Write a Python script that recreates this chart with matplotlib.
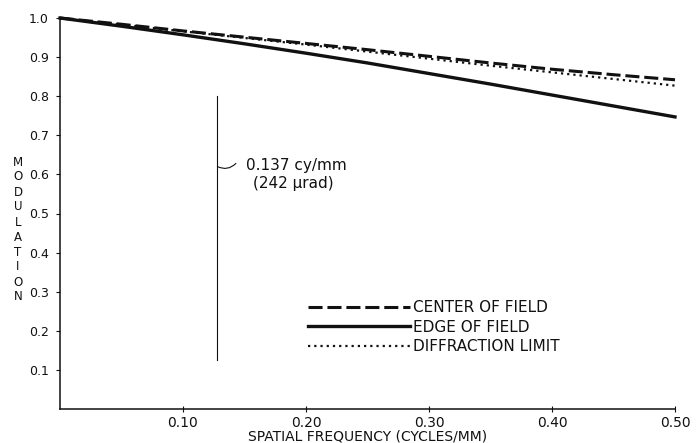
import matplotlib
matplotlib.use("Agg")
import matplotlib.pyplot as plt
import numpy as np

# ---- data ----
freq = [0.00, 0.05, 0.10, 0.15, 0.20, 0.25, 0.30, 0.35, 0.40, 0.45, 0.50]
center_of_field = [1.000, 0.984, 0.967, 0.951, 0.935, 0.919, 0.902, 0.885, 0.869, 0.855, 0.842]
edge_of_field = [1.000, 0.979, 0.957, 0.934, 0.910, 0.885, 0.858, 0.831, 0.803, 0.775, 0.747]
diffraction_limit = [1.000, 0.983, 0.966, 0.949, 0.932, 0.914, 0.896, 0.878, 0.861, 0.844, 0.827]
series_labels = ["CENTER OF FIELD", "EDGE OF FIELD", "DIFFRACTION LIMIT"]
x_ticks = [0.10, 0.20, 0.30, 0.40, 0.50]
x_ticklabels = ["0.10", "0.20", "0.30", "0.40", "0.50"]
y_ticks = [0.1, 0.2, 0.3, 0.4, 0.5, 0.6, 0.7, 0.8, 0.9, 1.0]
y_ticklabels = ["0.1", "0.2", "0.3", "0.4", "0.5", "0.6", "0.7", "0.8", "0.9", "1.0"]
marker_freq = 0.128
marker_span = [0.125, 0.80]
marker_text = ["0.137 cy/mm", "(242 \u03bcrad)"]

plt.rcParams['font.family'] = ['DejaVu Sans']
ink = "#111111"

fig = plt.figure(figsize=(7, 4.43), dpi=100)
fig.patch.set_facecolor("white")
ax = fig.add_axes([60/700, 34/443, 615/700, 391/443])
ax.set_xlim(0, 0.5)
ax.set_ylim(0, 1.0)

l_center, = ax.plot(freq, center_of_field, color=ink, lw=2.2, dashes=(4.6, 1.6),
                    clip_on=False, label=series_labels[0], zorder=3)
l_edge, = ax.plot(freq, edge_of_field, color=ink, lw=2.4, clip_on=False,
                  label=series_labels[1], zorder=3)
l_diff, = ax.plot(freq, diffraction_limit, color=ink, lw=1.6, dashes=(1.0, 1.8),
                  clip_on=False, label=series_labels[2], zorder=3)

# marker line and annotation
ax.plot([marker_freq, marker_freq], marker_span, color=ink, lw=0.8)
ax.annotate("", xy=(marker_freq, 0.620), xytext=(0.143, 0.628),
            arrowprops=dict(arrowstyle="-", lw=0.8, color=ink,
                            connectionstyle="arc3,rad=-0.35", shrinkA=0, shrinkB=0))
ax.text(0.1925, 0.624, marker_text[0], ha="center", va="center", fontsize=11, color=ink)
ax.text(0.1895, 0.578, marker_text[1], ha="center", va="center", fontsize=11, color=ink)

# axes styling
for s in ["top", "right"]:
    ax.spines[s].set_visible(False)
for s in ["left", "bottom"]:
    ax.spines[s].set_linewidth(1.1)
    ax.spines[s].set_color(ink)
ax.set_xticks(x_ticks)
ax.set_xticklabels(x_ticklabels, fontsize=10, color=ink)
ax.set_yticks(y_ticks)
ax.set_yticklabels(y_ticklabels, fontsize=9, color=ink)
ax.tick_params(axis="x", direction="inout", length=4, width=0.8, pad=3, colors=ink)
ax.tick_params(axis="y", direction="out", length=3, width=0.8, pad=5, colors=ink)

ax.set_xlabel("SPATIAL FREQUENCY (CYCLES/MM)", fontsize=10, color=ink, labelpad=0)

# stacked vertical y label
ylabel = "MODULATION"
for i, ch in enumerate(ylabel):
    fig.text(18/700, 1 - (162 + i*15)/443, ch, ha="center", va="center",
             fontsize=8.5, color=ink)

leg = ax.legend(handles=[l_center, l_edge, l_diff], labels=series_labels,
                loc="upper left", bbox_to_anchor=(308/700, 1 - 300/443),
                bbox_transform=fig.transFigure, frameon=False,
                handlelength=6.7, handletextpad=0.2, labelspacing=0.3,
                borderpad=0, borderaxespad=0, prop={"size": 11})
for t in leg.get_texts():
    t.set_color(ink)

fig.savefig("out.png", dpi=100, facecolor="white")
